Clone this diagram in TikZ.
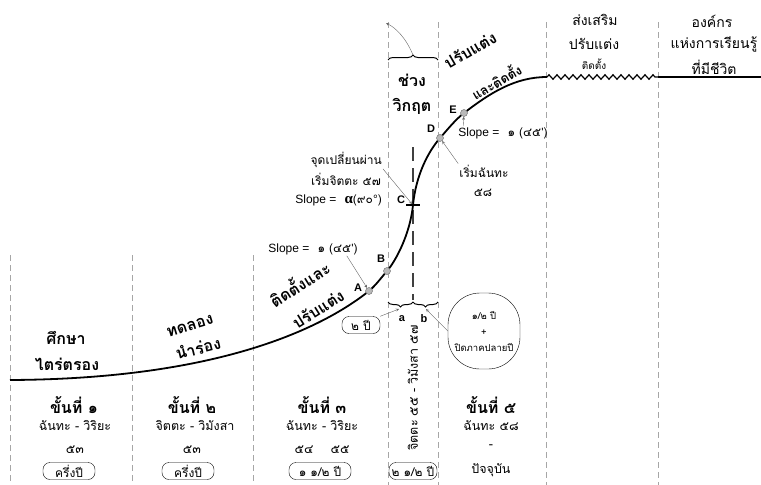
\documentclass[tikz,border=0pt]{standalone}
\usepackage{fontspec}
\setmainfont[Script=Thai]{Loma}
\newfontfamily\lat{Liberation Sans}
\newfontfamily\latserif{Liberation Serif}
\usetikzlibrary{arrows,positioning,decorations.pathreplacing,decorations.pathmorphing}

\begin{document}
\begin{tikzpicture}[
    x=1pt, y=-1pt,
    curve/.style={line width=1.8pt, draw=black},
    colline/.style={draw=gray!70, line width=1pt, dash pattern=on 6pt off 4pt},
    midline/.style={draw=black!75, line width=1.2pt, dash pattern=on 14pt off 7pt},
    pointer/.style={-stealth, thin, draw=black!60},
    dot/.style={circle, fill=gray!55, draw=gray!80!black, line width=0.4pt, minimum size=7pt, inner sep=0pt},
    phase/.style={font=\bfseries\fontsize{16}{18}\selectfont, inner sep=1pt},
    stepname/.style={font=\bfseries\fontsize{16}{18}\selectfont, inner sep=1pt},
    sub/.style={font=\fontsize{12.5}{14}\selectfont, inner sep=1pt},
    period/.style={draw, rounded corners=7pt, minimum width=52pt, minimum height=17pt, inner sep=1pt, font=\fontsize{12}{13}\selectfont},
    note/.style={font=\fontsize{12}{14}\selectfont, inner sep=1pt},
    ptlabel/.style={font=\lat\bfseries\fontsize{11}{12}\selectfont, inner sep=1pt},
    slope/.style={font=\fontsize{12}{13}\selectfont, inner sep=1pt},
    bracestyle/.style={decorate, line width=1pt},
]
\useasboundingbox (0,0) rectangle (761,485);

% Column borders
\foreach \cx in {10,132,253}
    \draw[colline] (\cx,255) -- (\cx,485);
\foreach \cx in {388,438,546,658}
    \draw[colline] (\cx,22) -- (\cx,485);
\draw[midline] (413,147) -- (413,300);

% S-curve
\draw[curve] (10,380) .. controls (215,379) and (320,330) .. (369,291)
    .. controls (376,285) and (381,278) .. (387,271)
    .. controls (395,262) and (410,235) .. (413,205)
    .. controls (416,175) and (428,152) .. (440,138)
    .. controls (448,129) and (455,120) .. (464,113)
    .. controls (490,93) and (515,77) .. (547,77);
\draw[line width=1.2pt, decorate, decoration={zigzag, segment length=8pt, amplitude=2.2pt}] (547,77) -- (658,77);
\draw[curve] (658,77) -- (761,77);
\draw[line width=1.2pt] (406,205) -- (420,205);

% Points on the curve
\node[dot] (A) at (369,291) {};
\node[dot] (B) at (387,271) {};
\coordinate (C) at (412,204);
\node[dot] (D) at (440,138) {};
\node[dot] (E) at (464,113) {};
\node[ptlabel] (Alab) at (358,288) {A};
\node[ptlabel] (Blab) at (381,259) {B};
\node[ptlabel] (Clab) at (401,200) {C};
\node[ptlabel] (Dlab) at (431,129) {D};
\node[ptlabel] (Elab) at (453,110) {E};

% Slopes and turning point
\node[slope] (slopeA) at (313,249) {{\lat Slope =}\ \ ๑ (๔๕{\lat '})};
\draw[pointer] ([xshift=-12pt]slopeA.south east) -- (A);
\node[note, anchor=east] (turn) at (383,160) {จุดเปลี่ยนผ่าน};
\node[note, anchor=east] (start57) at (382,179) {เริ่มจิตตะ ๕๗};
\node[slope, anchor=east] (slopeC) at (383,200) {{\lat Slope =}\ \ {\latserif\bfseries\fontsize{15}{15}\selectfont α}(๙๐{\lat °})};
\draw[pointer] (turn.south east) -- (C);
\node[note] (start58) at (484,171) {เริ่มฉันทะ};
\node[note] (yr58) at (483,193) {๕๘};
\draw[pointer] (start58.north west) -- (D);
\node[slope] (slopeE) at (503,133) {{\lat Slope =}\ \ ๑ (๔๕{\lat '})};
\draw[pointer] ([xshift=6pt]slopeE.north west) -- (E);

% Phase labels along the curve
\node[phase] (study1) at (66,338) {ศึกษา};
\node[phase] (study2) at (67,364) {ไตร่ตรอง};
\node[phase, rotate=17] (pilot1) at (190,326) {ทดลอง};
\node[phase, rotate=14] (pilot2) at (198,348) {นำร่อง};
\node[phase, rotate=32] (inst1) at (299,283) {ติดตั้งและ};
\node[phase, rotate=32] (inst2) at (318,309) {ปรับแต่ง};
\node[phase, rotate=30] (adj1) at (470,50) {ปรับแต่ง};
\node[phase, rotate=30, font=\bfseries\fontsize{13}{15}\selectfont] (adj2) at (496,81) {และติดตั้ง};
\node[stepname] (crit1) at (412,80) {ช่วง};
\node[stepname] (crit2) at (412,106) {วิกฤต};
\node[note, font=\fontsize{14}{16}\selectfont] (promo1) at (595,20) {ส่งเสริม};
\node[note, font=\fontsize{14}{16}\selectfont] (promo2) at (594,44) {ปรับแต่ง};
\node[note, font=\fontsize{10}{12}\selectfont] (promo3) at (594,64) {ติดตั้ง};
\node[note, font=\fontsize{14}{16}\selectfont] (org1) at (712,21) {องค์กร};
\node[note, font=\fontsize{14}{16}\selectfont] (org2) at (714,44) {แห่งการเรียนรู้};
\node[note, font=\fontsize{14}{16}\selectfont] (org3) at (714,67) {ที่มีชีวิต};

% Critical period braces
\draw[bracestyle, decoration={brace, amplitude=5pt}] (388,60) -- (438,60);
\coordinate (critTop) at (413,55);
\coordinate (critEnd) at (386,23);
\draw[pointer] (critTop) .. controls (406,38) and (396,28) .. (critEnd);
\draw[bracestyle, decoration={brace, amplitude=5pt, mirror}] (388,302) -- (413,302);
\draw[bracestyle, decoration={brace, amplitude=5pt, mirror}] (413,302) -- (438,302);
\coordinate (braceA) at (399,309);
\coordinate (braceB) at (426,309);
\node[ptlabel] (alab) at (402,319) {a};
\node[ptlabel] (blab) at (424,319) {b};
\node[period, minimum width=38pt] (twoyr) at (361,325) {๒ ปี};
\draw[pointer] (twoyr.north east) -- (braceA);
\node[draw, rounded corners=32pt, minimum width=72pt, minimum height=76pt, align=center, font=\fontsize{9.5}{10}\selectfont] (half) at (484,331) {๑/๒ ปี\\[6pt]+\\[6pt]ปิดภาคปลายปี};
\draw[pointer] (half.west) -- (braceB);

% Stage 1
\node[stepname] (s1) at (74,405) {ขั้นที่ ๑};
\node[sub] (s1who) at (75,426) {ฉันทะ - วิริยะ};
\node[sub] (s1yr) at (75,450) {๕๓};
\node[period] (s1len) at (69,471) {ครึ่งปี};

% Stage 2
\node[stepname] (s2) at (192,405) {ขั้นที่ ๒};
\node[sub] (s2who) at (195,426) {จิตตะ - วิมังสา};
\node[sub] (s2yr) at (192,450) {๕๓};
\node[period] (s2len) at (188,471) {ครึ่งปี};

% Stage 3
\node[stepname] (s3) at (322,405) {ขั้นที่ ๓};
\node[sub] (s3who) at (322,426) {ฉันทะ - วิริยะ};
\node[sub] (s3yrA) at (304,450) {๕๔};
\node[sub] (s3yrB) at (340,450) {๕๕};
\node[period, minimum width=62pt] (s3len) at (320,471) {๑ ๑/๒ ปี};

% Stage 4 (critical)
\node[sub, rotate=90] (s4who) at (413,388) {จิตตะ ๕๕ - วิมังสา ๕๗};
\node[period, minimum width=48pt] (s4len) at (413,471) {๒ ๑/๒ ปี};

% Stage 5
\node[stepname] (s5) at (491,405) {ขั้นที่ ๕};
\node[sub] (s5who) at (491,426) {ฉันทะ ๕๘};
\node[sub] (s5dash) at (491,447) {-};
\node[sub] (s5now) at (491,470) {ปัจจุบัน};

\end{tikzpicture}
\end{document}
